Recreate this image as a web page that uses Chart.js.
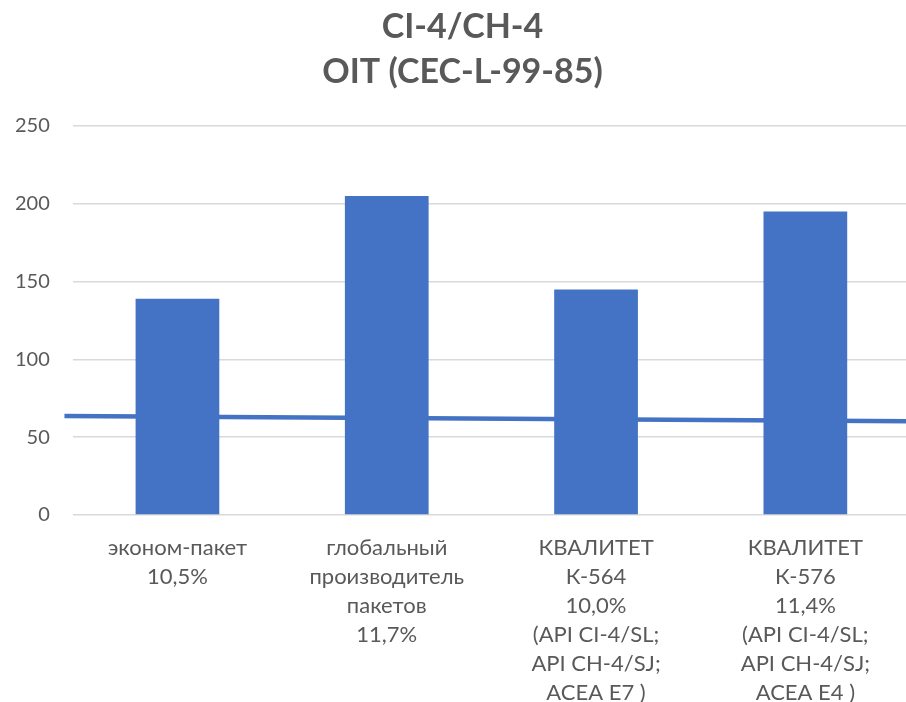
<!DOCTYPE html>
<html>
<head>
<meta charset="utf-8">
<script src="https://cdn.jsdelivr.net/npm/chart.js@4"></script>
<style>
  html, body { margin: 0; padding: 0; background: #fff; overflow: hidden; }
  #wrap { width: 910px; height: 707px; }
</style>
</head>
<body>
<div id="wrap"><canvas id="c" width="910" height="707"></canvas></div>
<script>
const titleLines = ["CI-4/CH-4", "OIT (CEC-L-99-85)"];
const categories = [
  ["эконом-пакет", "10,5%"],
  ["глобальный", "производитель", "пакетов", "11,7%"],
  ["КВАЛИТЕТ", "К-564", "10,0%", "(API CI-4/SL;", "API CH-4/SJ;", "ACEA E7 )"],
  ["КВАЛИТЕТ", "К-576", "11,4%", "(API CI-4/SL;", "API CH-4/SJ;", "ACEA E4 )"]
];
const oitValues = [139, 205, 145, 195];
const trendX = [-0.54, 3.5];
const trendY = [63.7, 60.2];
const yTicks = [0, 50, 100, 150, 200, 250];

Chart.defaults.font.family = "Lato, 'Open Sans', sans-serif";
Chart.defaults.color = "#595959";

new Chart(document.getElementById("c"), {
  type: "bar",
  data: {
    labels: categories,
    datasets: [
      {
        type: "bar",
        label: "OIT",
        data: oitValues,
        backgroundColor: "#4472C4",
        borderWidth: 0,
        categoryPercentage: 1,
        barPercentage: 0.4,
        grouped: false,
        xAxisID: "x",
        order: 1
      },
      {
        type: "line",
        label: "trend",
        data: trendX.map((x, i) => ({ x: x, y: trendY[i] })),
        borderColor: "#4472C4",
        borderWidth: 4.5,
        pointRadius: 0,
        fill: false,
        xAxisID: "xt",
        clip: false,
        order: 2
      }
    ]
  },
  options: {
    responsive: false,
    devicePixelRatio: 1,
    animation: false,
    layout: { padding: { left: 15, right: 0, top: 5, bottom: 0 } },
    plugins: {
      legend: { display: false },
      tooltip: { enabled: false },
      title: {
        display: true,
        text: titleLines,
        color: "#595959",
        font: { size: 34, weight: "bold", lineHeight: "45px" },
        padding: { top: 0, bottom: 31 }
      }
    },
    scales: {
      x: {
        type: "category",
        offset: true,
        grid: { display: true, color: "rgba(0,0,0,0)", drawTicks: true, tickLength: 18, tickColor: "rgba(0,0,0,0)" },
        border: { display: false },
        ticks: {
          font: { size: 22, lineHeight: "29px" },
          color: "#595959",
          padding: 0,
          maxRotation: 0,
          autoSkip: false
        }
      },
      xt: {
        type: "linear",
        display: false,
        offset: false,
        grid: { offset: false },
        min: -0.5,
        max: 3.5
      },
      y: {
        min: 0,
        max: 250,
        afterBuildTicks: (axis) => { axis.ticks = yTicks.map(v => ({ value: v })); },
        grid: { color: "#D9D9D9", lineWidth: 1.5, drawTicks: true, tickLength: 23, tickColor: "rgba(0,0,0,0)" },
        border: { display: false },
        ticks: {
          font: { size: 20 },
          color: "#595959",
          padding: 0
        }
      }
    }
  }
});
</script>
</body>
</html>
